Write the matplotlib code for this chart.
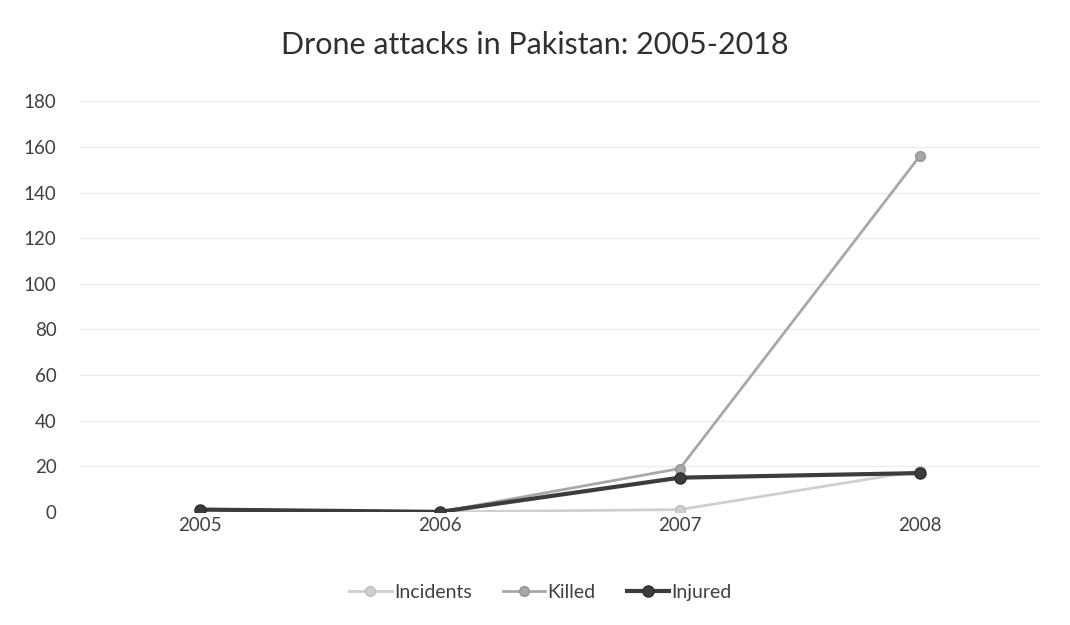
import matplotlib.pyplot as plt
import numpy as np

years = ['2005', '2006', '2007', '2008']
incidents = [1, 0, 1, 18]
killed = [1, 0, 19, 156]
injured = [1, 0, 15, 17]

plt.rcParams['font.family'] = ['Lato', 'DejaVu Sans']

fig = plt.figure(figsize=(10.7, 6.25), dpi=100)
ax = fig.add_axes([0.0748, 0.181, 0.897, 0.657])

x = np.arange(len(years))
ax.plot(x, incidents, color='#cfcfcf', linewidth=2, marker='o', markersize=7,
        markeredgecolor='#bdbdbd', label='Incidents', zorder=3)
ax.plot(x, killed, color='#a8a8a8', linewidth=2, marker='o', markersize=7,
        markeredgecolor='#959595', label='Killed', zorder=4)
ax.plot(x, injured, color='#3c3c3c', linewidth=3, marker='o', markersize=8,
        markeredgecolor='#2e2e2e', label='Injured', zorder=5)

ax.set_xlim(-0.5, 3.5)
ax.set_ylim(0, 180)
ax.set_yticks(range(0, 181, 20))
ax.set_xticks(x)
ax.set_xticklabels(years)
ax.tick_params(axis='both', length=0, labelsize=13.5, colors='#404040')
ax.tick_params(axis='y', pad=17)
ax.tick_params(axis='x', pad=4)
ax.grid(axis='y', color='#ececec', linewidth=1)
ax.set_axisbelow(True)
for s in ax.spines.values():
    s.set_visible(False)

fig.suptitle('Drone attacks in Pakistan: 2005-2018', fontsize=22, color='#303030', y=0.95)
fig.legend(loc='lower center', bbox_to_anchor=(0.505, 0.01), ncol=3, frameon=False,
           fontsize=14, handlelength=2.2, columnspacing=1.6, handletextpad=0.1,
           labelcolor='#404040')

fig.savefig('out.png', dpi=100)
